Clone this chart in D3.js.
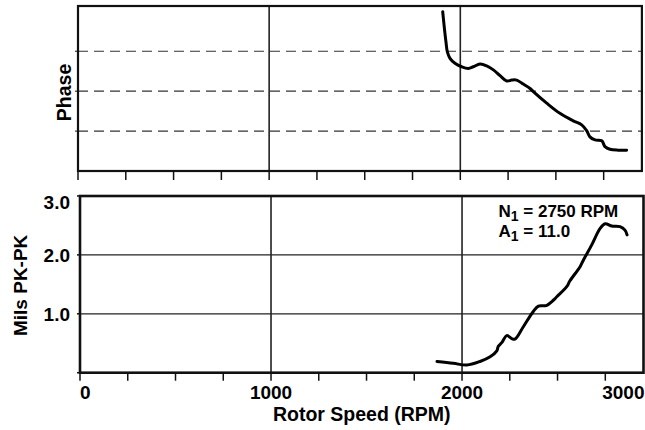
<!DOCTYPE html>
<html><head><meta charset="utf-8">
<script src="https://cdn.jsdelivr.net/npm/d3@7"></script>
<style>
body{margin:0;background:#fff}
svg{display:block}
text{font-family:"Liberation Sans",Arial,Helvetica,sans-serif;font-weight:bold;fill:#000}
</style>
</head><body>
<svg id="c" width="645" height="430"></svg>
<script>
// ---- data ----
const phaseRpm = [1908,1915,1925,1932,1946,1972,2007,2042,2068,2103,2138,2173,2208,2243,2269,2295,2329,2365,2382,2452,2521,2591,2635,2661,2678,2705,2740,2757,2783,2826,2870];
const phaseDeg = [359,329,291,269,254,243,235,231,235,241,237,228,215,203,205,205,196,186,179,153,130,113,104,91,77,70,68,55,49,47,47];
const ampRpm  = [1869,1954,2025,2094,2147,2182,2190,2208,2234,2260,2277,2321,2373,2400,2440,2478,2496,2548,2565,2618,2635,2679,2723,2749,2784,2827,2853,2864];
const ampMils = [0.19,0.16,0.13,0.19,0.27,0.37,0.45,0.51,0.63,0.58,0.57,0.78,1.04,1.13,1.14,1.23,1.29,1.46,1.56,1.80,1.91,2.17,2.45,2.53,2.49,2.48,2.42,2.34];
const xMinorTicks = [0,250,500,750,1000,1250,1500,1750,2000,2250,2500,2750];
const xGridValues = [1000,2000];
const xTickValues = [0,1000,2000,3000];
const xTickLabels = ["0","1000","2000","3000"];
const ampGridValues = [1,2];
const ampTickValues = [1,2,3];
const ampTickLabels = ["1.0","2.0","3.0"];
const phaseGridValues = [90,180,270];
const annoN = ["N","1"," = 2750 RPM"];
const annoA = ["A","1"," = 11.0"];
const xTitle = "Rotor Speed (RPM)";
const yTitleTop = "Phase";
const yTitleBottom = "Mils PK-PK";

// ---- layout ----
const svg = d3.select("#c");
const T = {l:78, r:641.9, t:6, b:171};
const B = {l:80, r:643.5, t:196, b:372.7};
const xT = d3.scaleLinear().domain([0,2950]).range([T.l,T.r]);
const xB = d3.scaleLinear().domain([0,2950]).range([B.l,B.r]);
const yP = d3.scaleLinear().domain([0,372]).range([T.b,T.t]);
const yA = d3.scaleLinear().domain([0,3]).range([B.b,B.t]);

// ---- top panel ----
const gt = svg.append("g");
gt.selectAll("line.dash").data(phaseGridValues).join("line")
  .attr("x1",T.l).attr("x2",T.r).attr("y1",d=>yP(d)).attr("y2",d=>yP(d))
  .attr("stroke","#333").attr("stroke-width",1.2).attr("stroke-dasharray","10,6");
gt.selectAll("line.ltick").data(phaseGridValues).join("line")
  .attr("x1",T.l-3).attr("x2",T.l).attr("y1",d=>yP(d)).attr("y2",d=>yP(d))
  .attr("stroke","#111").attr("stroke-width",1);
gt.selectAll("line.vg").data(xGridValues).join("line")
  .attr("x1",d=>xT(d)).attr("x2",d=>xT(d)).attr("y1",T.t).attr("y2",T.b)
  .attr("stroke","#222").attr("stroke-width",1.6);
gt.selectAll("line.bt").data(xMinorTicks).join("line")
  .attr("x1",d=>xT(d)).attr("x2",d=>xT(d)).attr("y1",T.b).attr("y2",T.b+9)
  .attr("stroke","#111").attr("stroke-width",1.5);
gt.append("rect").attr("x",T.l).attr("y",T.t).attr("width",T.r-T.l).attr("height",T.b-T.t)
  .attr("fill","none").attr("stroke","#111").attr("stroke-width",2.2);
gt.append("path")
  .datum(phaseRpm.map((r,i)=>[r,phaseDeg[i]]))
  .attr("d", d3.line().x(d=>xT(d[0])).y(d=>yP(d[1])).curve(d3.curveCatmullRom))
  .attr("fill","none").attr("stroke","#000").attr("stroke-width",3)
  .attr("stroke-linejoin","round").attr("stroke-linecap","round");
svg.append("text").attr("transform",`translate(71,${(T.t+T.b)/2+4}) rotate(-90)`)
  .attr("text-anchor","middle").style("font-size","19.5px").text(yTitleTop);

// ---- bottom panel ----
const gb = svg.append("g");
gb.selectAll("line.hg").data(ampGridValues).join("line")
  .attr("x1",B.l).attr("x2",B.r).attr("y1",d=>yA(d)).attr("y2",d=>yA(d))
  .attr("stroke","#222").attr("stroke-width",1.3);
gb.selectAll("line.lt").data([0,1,2,3]).join("line")
  .attr("x1",B.l-3).attr("x2",B.l).attr("y1",d=>yA(d)).attr("y2",d=>yA(d))
  .attr("stroke","#111").attr("stroke-width",1.5);
gb.selectAll("line.vg").data(xGridValues).join("line")
  .attr("x1",d=>xB(d)).attr("x2",d=>xB(d)).attr("y1",B.t).attr("y2",B.b)
  .attr("stroke","#222").attr("stroke-width",1.6);
gb.selectAll("line.bt").data(xMinorTicks).join("line")
  .attr("x1",d=>xB(d)).attr("x2",d=>xB(d)).attr("y1",B.b).attr("y2",B.b+8)
  .attr("stroke","#111").attr("stroke-width",1.5);
gb.append("rect").attr("x",B.l).attr("y",B.t).attr("width",B.r-B.l).attr("height",B.b-B.t)
  .attr("fill","none").attr("stroke","#111").attr("stroke-width",2.6);
gb.append("path")
  .datum(ampRpm.map((r,i)=>[r,ampMils[i]]))
  .attr("d", d3.line().x(d=>xB(d[0])).y(d=>yA(d[1])).curve(d3.curveCatmullRom))
  .attr("fill","none").attr("stroke","#000").attr("stroke-width",3)
  .attr("stroke-linejoin","round").attr("stroke-linecap","round");

// y tick labels
gb.selectAll("text.yl").data(ampTickValues).join("text")
  .attr("x",70).attr("y",(d,i)=>yA(d)+(d===3?6:0)).attr("dy","0.36em")
  .attr("text-anchor","end").style("font-size","19px")
  .text((d,i)=>ampTickLabels[i]);
// x tick labels
const xMax = xB.domain()[1];
gb.selectAll("text.xl").data(xTickValues).join("text")
  .attr("x",d=> d>xMax ? xB.range()[1]+1 : xB(d))
  .attr("y",398.5)
  .attr("text-anchor",(d,i)=> i===0 ? "start" : (d>xMax ? "end" : "middle"))
  .style("font-size","19px")
  .text((d,i)=>xTickLabels[i]);
svg.append("text").attr("x",(B.l+B.r)/2).attr("y",420.5).attr("text-anchor","middle")
  .style("font-size","19.5px").text(xTitle);
svg.append("text").attr("transform",`translate(27,${(B.t+B.b)/2+1}) rotate(-90)`)
  .attr("text-anchor","middle").style("font-size","19px").text(yTitleBottom);

// annotation
function anno(parts, y){
  const t = svg.append("text").attr("x",498.5).attr("y",y).style("font-size","17px");
  t.append("tspan").text(parts[0]);
  t.append("tspan").attr("dy",4).style("font-size","14px").text(parts[1]);
  t.append("tspan").attr("dy",-4).text(parts[2]);
}
anno(annoN, 216.8);
anno(annoA, 237.2);
</script>
</body></html>
